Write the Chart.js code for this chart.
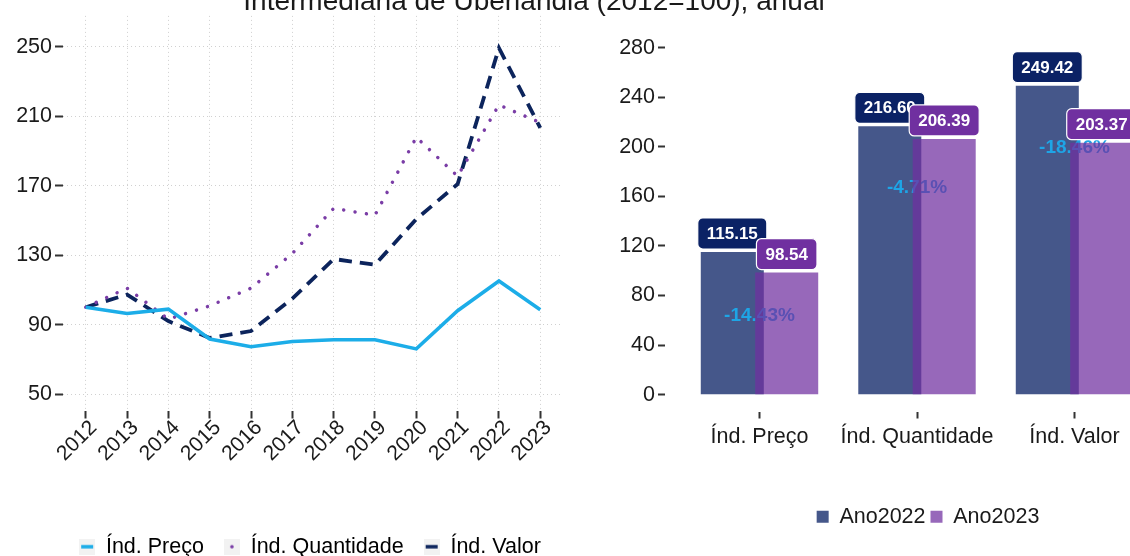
<!DOCTYPE html>
<html>
<head>
<meta charset="utf-8">
<script src="https://cdn.jsdelivr.net/npm/chart.js@4.4.1/dist/chart.umd.min.js"></script>
<style>
  html, body { margin: 0; padding: 0; background: #fff; overflow: hidden; width: 1130px; height: 556px; }
  #titulo { position: absolute; left: 0; top: -13px; width: 1068px; text-align: center; white-space: nowrap;
            font: 28px 'Liberation Sans', Arial, sans-serif; line-height: 27px; color: #1a1a1a; z-index: 5; }
  #esq { position: absolute; left: 0; top: 0; }
  #dir { position: absolute; left: 595px; top: 0; }
</style>
</head>
<body>
<div id="titulo">Intermediária de Uberlândia (2012=100), anual</div>
<canvas id="esq" width="620" height="570"></canvas>
<canvas id="dir" width="666" height="570"></canvas>
<script>
// serie anual (2012 = 100)
const anos = [2012, 2013, 2014, 2015, 2016, 2017, 2018, 2019, 2020, 2021, 2022, 2023];
const indPreco = [100, 96.4, 98.9, 81.7, 77.3, 80.2, 81.3, 81.3, 76.0, 98.0, 115.15, 98.54];
const indQuantidade = [100, 111.0, 93.2, 100.8, 111.0, 131.0, 157.0, 153.0, 198.0, 175.5, 216.60, 206.39];
const indValor = [100, 107.3, 92.0, 82.3, 86.3, 105.0, 127.8, 124.5, 150.8, 171.0, 249.42, 203.37];
const ticksLinha = [50, 90, 130, 170, 210, 250];

// comparacao 2022 x 2023
const categorias = ['Índ. Preço', 'Índ. Quantidade', 'Índ. Valor'];
const ano2022 = [115.15, 216.60, 249.42];
const ano2023 = [98.54, 206.39, 203.37];
const variacao = [-14.43, -4.71, -18.46];
const alturaVariacao = [64, 167, 199];   // altura (no eixo y) onde vai o texto da variacao
const ticksBarra = [0, 40, 80, 120, 160, 200, 240, 280];

const FONTE = "'Liberation Sans', Arial, sans-serif";
Chart.defaults.font.family = FONTE;
Chart.defaults.color = '#1a1a1a';

const corPreco = '#1CADE8';
const corQuant = '#7A3DA6';
const corValor = '#0C245C';

// chaves da legenda (estilo ggplot, fundo cinza claro)
function chave(desenha) {
    const c = document.createElement('canvas');
    c.width = 16; c.height = 16;
    const g = c.getContext('2d');
    g.fillStyle = '#f2f2f2';
    g.fillRect(0, 0, 16, 16);
    desenha(g);
    return c;
}
const traco = cor => g => { g.strokeStyle = cor; g.lineWidth = 3.5; g.beginPath(); g.moveTo(2, 8); g.lineTo(14, 8); g.stroke(); };
const chaves = [
    chave(traco(corPreco)),
    chave(g => { g.fillStyle = corQuant; g.beginPath(); g.arc(8, 8, 1.8, 0, Math.PI * 2); g.fill(); }),
    chave(traco(corValor))
];

const gradeTicks = {
    color: '#d0d0d0', lineWidth: 1, tickLength: 8, tickColor: '#333', tickWidth: 2
};

new Chart(document.getElementById('esq'), {
    type: 'line',
    data: {
        datasets: [
            {
                label: 'Índ. Preço',
                data: anos.map((a, i) => ({ x: a, y: indPreco[i] })),
                borderColor: corPreco, borderWidth: 3.5
            },
            {
                label: 'Índ. Quantidade',
                data: anos.map((a, i) => ({ x: a, y: indQuantidade[i] })),
                borderColor: corQuant, borderWidth: 3.5,
                borderDash: [0.01, 11.5], borderCapStyle: 'round'
            },
            {
                label: 'Índ. Valor',
                data: anos.map((a, i) => ({ x: a, y: indValor[i] })),
                borderColor: corValor, borderWidth: 3.8,
                borderDash: [13, 8]
            }
        ]
    },
    options: {
        responsive: false,
        animation: false,
        events: [],
        elements: { point: { radius: 0 }, line: { tension: 0 } },
        layout: { padding: { top: 9.5, bottom: 2.5 }, autoPadding: false },
        plugins: {
            tooltip: { enabled: false },
            legend: {
                position: 'bottom',
                labels: {
                    usePointStyle: true, boxWidth: 16, boxHeight: 16, padding: 20,
                    font: { size: 21.5 }, color: '#1a1a1a',
                    generateLabels: chart => chart.data.datasets.map((d, i) => ({
                        text: d.label, pointStyle: chaves[i], fillStyle: 'transparent',
                        strokeStyle: 'transparent', lineWidth: 0, hidden: false, datasetIndex: i
                    }))
                }
            }
        },
        scales: {
            x: {
                type: 'linear', min: 2011.45, max: 2023.55,
                afterBuildTicks: s => { s.ticks = anos.map(v => ({ value: v })); },
                afterFit: s => { s.height = 105.5; },
                ticks: { callback: v => String(v), minRotation: 45, maxRotation: 45, autoSkip: false,
                         font: { size: 21 }, padding: -3, labelOffset: 8 },
                grid: gradeTicks,
                border: { display: false, dash: [1, 3] }
            },
            y: {
                min: 40.5, max: 267.9,
                afterBuildTicks: s => { s.ticks = ticksLinha.map(v => ({ value: v })); },
                afterFit: s => { s.width = 63; },
                ticks: { font: { size: 21.5 }, padding: 3 },
                grid: gradeTicks,
                border: { display: false, dash: [1, 3] }
            },
            folga: {
                type: 'linear', position: 'right',
                ticks: { display: false }, grid: { display: false }, border: { display: false },
                afterFit: s => { s.width = 57; }
            }
        }
    }
});

// rotulos das barras e variacao percentual
const rotulos = {
    id: 'rotulos',
    beforeDatasetDraw(chart, args) {
        if (args.index === 1) return false;   // 2023 desenhado depois, por cima
    },
    afterDatasetDraw(chart, args) {
        if (args.index !== 0) return;
        const ctx = chart.ctx, xs = chart.scales.x, ys = chart.scales.y;
        ctx.save();
        ctx.font = 'bold 19px ' + FONTE;
        ctx.fillStyle = '#1EA5E6';
        ctx.textAlign = 'center';
        ctx.textBaseline = 'middle';
        variacao.forEach((v, i) => {
            ctx.fillText(v.toFixed(2) + '%', xs.getPixelForValue(i), ys.getPixelForValue(alturaVariacao[i]));
        });
        ctx.restore();
        chart.getDatasetMeta(1).controller.draw();
    },
    afterDatasetsDraw(chart) {
        const ctx = chart.ctx;
        ctx.save();
        ctx.font = 'bold 17px ' + FONTE;
        ctx.textAlign = 'center';
        ctx.textBaseline = 'middle';
        chart.data.datasets.forEach((ds, di) => {
            chart.getDatasetMeta(di).data.forEach((bar, i) => {
                const txt = ds.data[i].y.toFixed(2);
                const w = ctx.measureText(txt).width + 18, h = 31;
                const x0 = bar.x - w / 2, y0 = bar.y - 3 - h;
                ctx.beginPath();
                ctx.roundRect(x0, y0, w, h, 5);
                ctx.fillStyle = ds.caixa;
                ctx.fill();
                ctx.strokeStyle = '#ffffff';
                ctx.lineWidth = 1.2;
                ctx.stroke();
                ctx.fillStyle = '#ffffff';
                ctx.fillText(txt, bar.x, y0 + h / 2 + 1);
            });
        });
        ctx.restore();
    }
};

new Chart(document.getElementById('dir'), {
    type: 'bar',
    data: {
        datasets: [
            {
                label: 'Ano2022',
                data: categorias.map((c, i) => ({ x: i, y: ano2022[i] })),
                backgroundColor: 'rgba(11,34,101,0.76)', caixa: '#0B2265'
            },
            {
                label: 'Ano2023',
                data: categorias.map((c, i) => ({ x: i, y: ano2023[i] })),
                backgroundColor: 'rgba(112,48,160,0.73)', caixa: '#7030A0'
            }
        ]
    },
    options: {
        responsive: false,
        animation: false,
        events: [],
        datasets: { bar: { categoryPercentage: 0.691, barPercentage: 1.158, borderWidth: 0 } },
        layout: { padding: { top: 9, bottom: 32.5 }, autoPadding: false },
        plugins: {
            tooltip: { enabled: false },
            legend: {
                position: 'bottom',
                labels: { boxWidth: 12, boxHeight: 12, padding: 5, font: { size: 21.5 }, color: '#1a1a1a' }
            }
        },
        scales: {
            x: {
                type: 'linear', min: -0.6, max: 2.6, offset: false,
                afterBuildTicks: s => { s.ticks = categorias.map((c, i) => ({ value: i })); },
                afterFit: s => { s.height = 89.5; },
                ticks: { callback: v => categorias[v], maxRotation: 0, autoSkip: false, font: { size: 21.5 }, padding: 6 },
                grid: { offset: false, drawOnChartArea: false, tickLength: 7, tickColor: '#333', tickWidth: 2 },
                border: { display: false }
            },
            y: {
                min: -13.6, max: 305.7,
                afterBuildTicks: s => { s.ticks = ticksBarra.map(v => ({ value: v })); },
                afterFit: s => { s.width = 70; },
                ticks: { font: { size: 21.5 }, padding: 3 },
                grid: { drawOnChartArea: false, tickLength: 7, tickColor: '#333', tickWidth: 2 },
                border: { display: false }
            },
            folga: {
                type: 'linear', position: 'right',
                ticks: { display: false }, grid: { display: false }, border: { display: false },
                afterFit: s => { s.width = 92; }
            }
        }
    },
    plugins: [rotulos]
});
</script>
</body>
</html>
